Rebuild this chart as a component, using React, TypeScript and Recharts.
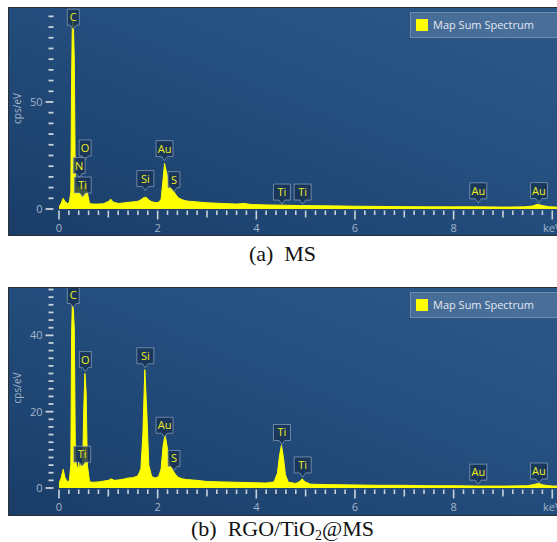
import React from 'react';
import { AreaChart, Area, XAxis, YAxis, ReferenceDot } from 'recharts';

// (a) MS spectrum (keV / cps/eV)
const msEnergy = [0, 0.04, 0.085, 0.12, 0.17, 0.21, 0.24, 0.255, 0.27, 0.29, 0.31, 0.33, 0.35, 0.39, 0.42, 0.45, 0.48, 0.5, 0.525, 0.55, 0.58, 0.62, 0.7, 0.8, 0.9, 1.0, 1.05, 1.1, 1.2, 1.3, 1.4, 1.5, 1.6, 1.65, 1.7, 1.74, 1.78, 1.82, 1.88, 1.95, 2.02, 2.07, 2.11, 2.14, 2.18, 2.22, 2.27, 2.31, 2.36, 2.42, 2.5, 2.6, 2.8, 3.0, 3.3, 3.6, 3.75, 3.9, 4.2, 4.5, 4.9, 5.4, 6.0, 6.5, 7.0, 7.5, 8.0, 8.5, 9.0, 9.45, 9.6, 9.7, 9.8, 9.95, 10.2, 10.4];
const msCounts = [1.0, 2.5, 5.0, 3.5, 2.6, 3.0, 8, 60, 86, 88, 70, 15, 10, 11, 9, 11, 9, 10, 12, 10, 7, 2.5, 2.3, 2.3, 2.5, 3.5, 4.6, 3.2, 2.6, 2.8, 3.1, 3.3, 3.6, 4.2, 5.0, 5.5, 5.2, 4.2, 3.4, 3.0, 3.1, 4.5, 14, 21.3, 17, 12, 9.5, 8.8, 7.0, 5.2, 4.3, 3.7, 3.3, 2.9, 2.6, 2.3, 2.6, 2.1, 1.9, 1.8, 1.6, 1.5, 1.3, 1.2, 1.1, 1.0, 1.0, 1.0, 0.9, 1.0, 1.4, 2.2, 1.6, 1.0, 0.8, 0.8];

// (b) RGO/TiO2@MS spectrum
const rgoEnergy = [0, 0.04, 0.085, 0.12, 0.17, 0.21, 0.24, 0.255, 0.27, 0.29, 0.31, 0.33, 0.35, 0.38, 0.4, 0.42, 0.45, 0.48, 0.5, 0.525, 0.55, 0.575, 0.62, 0.7, 0.8, 0.9, 1.0, 1.06, 1.12, 1.2, 1.3, 1.4, 1.5, 1.6, 1.66, 1.7, 1.74, 1.78, 1.82, 1.88, 1.95, 2.02, 2.07, 2.11, 2.15, 2.19, 2.23, 2.28, 2.31, 2.36, 2.42, 2.5, 2.6, 2.8, 3.0, 3.3, 3.6, 3.9, 4.2, 4.36, 4.43, 4.47, 4.51, 4.55, 4.59, 4.65, 4.8, 4.87, 4.93, 4.99, 5.1, 5.4, 6.0, 6.5, 7.0, 7.5, 8.0, 8.5, 9.0, 9.5, 9.62, 9.72, 9.82, 10.0, 10.4];
const rgoCounts = [1.2, 2.5, 4.9, 2.8, 1.6, 2.0, 6, 40, 48, 47, 42, 12, 6, 5, 6.7, 4.5, 6.5, 5.5, 20, 30, 25, 6, 1.6, 1.5, 1.6, 1.8, 2.0, 2.4, 2.0, 2.1, 2.3, 2.6, 2.7, 3.2, 5, 14, 31, 20, 6, 3, 2.6, 3.0, 5, 11, 14, 11, 7, 5.2, 4.6, 3.6, 2.8, 2.4, 2.2, 2.0, 1.7, 1.6, 1.5, 1.4, 1.3, 1.6, 4, 8.5, 11.2, 8, 3.5, 1.5, 1.2, 1.6, 2.4, 1.6, 1.0, 0.9, 0.8, 0.7, 0.7, 0.6, 0.6, 0.5, 0.5, 0.6, 0.9, 1.2, 0.8, 0.5, 0.5];

// peak tags: element, energy of the pointer, value at the pointer tip
const msTagNames = ['C', 'O', 'N', 'Ti', 'Si', 'Au', 'S', 'Ti', 'Ti', 'Au', 'Au'];
const msTagEnergy = [0.29, 0.53, 0.41, 0.48, 1.75, 2.14, 2.33, 4.52, 4.94, 8.5, 9.73];
const msTagTips = [84, 22.9, 14.7, 5.6, 8.6, 22.6, 8.1, 2.3, 2.3, 2.9, 3.0];

const rgoTagNames = ['C', 'O', 'Ti', 'Si', 'Au', 'S', 'Ti', 'Ti', 'Au', 'Au'];
const rgoTagEnergy = [0.29, 0.535, 0.47, 1.75, 2.14, 2.33, 4.52, 4.94, 8.5, 9.73];
const rgoTagTips = [47.3, 30.5, 5.7, 31.5, 13.3, 4.6, 11.4, 2.9, 1.0, 1.3];

// axes
const xTicks = Array.from({ length: 53 }, (_, i) => Math.round(i * 2) / 10);
const xLabelValues = [0, 2, 4, 6, 8, 10];
const xLabelTexts = ['0', '2', '4', '6', '8', 'keV'];
const msYTicks = Array.from({ length: 19 }, (_, i) => i * 5);
const msYLabels = [0, 50];
const rgoYTicks = Array.from({ length: 27 }, (_, i) => i * 2);
const rgoYLabels = [0, 20, 40];

const AXIS_TEXT = '#a3b5c9';
const TICK_LINE = '#c9d2dc';
const FONT = '"Open Sans", "Noto Sans", sans-serif';
const SPECTRUM = '#ffff00';

const EnergyTick = (props: any) => {
  const { x, y, payload } = props;
  const v = payload.value;
  const nearInt = Math.abs(v - Math.round(v)) < 1e-6;
  const even = nearInt && Math.round(v) % 2 === 0;
  const len = even ? 9 : nearInt ? 7 : 4.5;
  const idx = even ? xLabelValues.indexOf(Math.round(v)) : -1;
  return (
    <g>
      <line x1={x} x2={x} y1={y + 1.5} y2={y + 1.5 + len} stroke={TICK_LINE} strokeWidth={1.6} />
      {idx >= 0 && (
        <text x={x} y={y + 23} textAnchor="middle" fill={AXIS_TEXT} fontSize={11} fontFamily={FONT}>
          {xLabelTexts[idx]}
        </text>
      )}
    </g>
  );
};

const makeCountTick = (labels: number[]) => (props: any) => {
  const { x, y, payload } = props;
  const labelled = labels.includes(payload.value);
  return (
    <g>
      <line x1={labelled ? x - 13.5 : x - 10.5} x2={x - 5.5} y1={y} y2={y} stroke={TICK_LINE} strokeWidth={1.8} />
      {labelled && (
        <text x={x - 16.5} y={y + 4} textAnchor="end" fill={AXIS_TEXT} fontSize={11} fontFamily={FONT}>
          {payload.value}
        </text>
      )}
    </g>
  );
};

const AxisTitle = (props: any) => {
  const vb = props.viewBox || { x: 0, y: 0, height: 200 };
  const cx = vb.x + 8;
  const cy = vb.y + vb.height / 2;
  return (
    <text transform={`translate(${cx}, ${cy}) rotate(-90)`} textAnchor="middle" dominantBaseline="central" fill={AXIS_TEXT} fontSize={10} fontFamily={FONT}>
      cps/eV
    </text>
  );
};

const renderTag = (name: string) => (p: any) => {
  const { cx, cy } = p;
  const w = name.length > 1 ? 17 : 12;
  const h = 16;
  const tip = 4;
  const l = cx - w / 2;
  const r = cx + w / 2;
  const bot = cy - tip;
  const top = bot - h;
  return (
    <g>
      <path
        d={`M${l},${top} H${r} V${bot} H${cx + 3} L${cx},${cy} L${cx - 3},${bot} H${l} Z`}
        fill="rgba(24,50,84,0.82)"
        stroke="rgba(160,182,206,0.6)"
        strokeWidth={1}
      />
      <text x={cx} y={top + h / 2 + 4} textAnchor="middle" fill="#eeee22" fontSize={11} fontFamily={FONT}>
        {name}
      </text>
    </g>
  );
};

interface PanelProps {
  energy: number[];
  counts: number[];
  yMax: number;
  yTicks: number[];
  yLabels: number[];
  tagNames: string[];
  tagEnergy: number[];
  tagTips: number[];
  top: number;
  xAxisHeight: number;
}

const SpectrumPanel: React.FC<PanelProps> = ({ energy, counts, yMax, yTicks, yLabels, tagNames, tagEnergy, tagTips, top, xAxisHeight }) => {
  const data = energy.map((e, i) => ({ energy: e, counts: counts[i] }));
  return (
    <div
      style={{
        position: 'absolute',
        left: 8,
        top,
        width: 563,
        height: 227,
        border: '1px solid #2b2f36',
        background: 'linear-gradient(to bottom left, #2c5887 0%, #244e7e 45%, #1a3d68 100%)',
        overflow: 'hidden',
      }}
    >
      <AreaChart width={563} height={227} data={data} margin={{ top: 0, right: 0, bottom: 0, left: 0 }}>
        <XAxis
          dataKey="energy"
          type="number"
          domain={[0, 10.4]}
          ticks={xTicks}
          interval={0}
          tick={<EnergyTick />}
          tickLine={false}
          axisLine={false}
          tickSize={0}
          tickMargin={0}
          height={xAxisHeight}
          allowDataOverflow
        />
        <YAxis
          type="number"
          domain={[0, yMax]}
          ticks={yTicks}
          interval={0}
          tick={makeCountTick(yLabels)}
          tickLine={false}
          axisLine={false}
          tickSize={0}
          tickMargin={0}
          width={50}
          allowDataOverflow
          label={<AxisTitle />}
        />
        <Area
          dataKey="counts"
          type="linear"
          stroke={SPECTRUM}
          strokeWidth={1}
          fill={SPECTRUM}
          fillOpacity={1}
          dot={false}
          activeDot={false}
          isAnimationActive={false}
        />
        {tagNames.map((name, i) => (
          <ReferenceDot
            key={`${name}-${i}`}
            x={tagEnergy[i]}
            y={tagTips[i]}
            r={0}
            ifOverflow="visible"
            shape={renderTag(name)}
          />
        ))}
      </AreaChart>
      <div
        style={{
          position: 'absolute',
          left: 401,
          top: 4,
          width: 170,
          height: 24,
          background: 'rgba(150,175,205,0.28)',
          border: '1px solid rgba(180,200,222,0.35)',
          fontFamily: FONT,
          fontSize: 11,
          color: '#e2e8ef',
          lineHeight: '24px',
        }}
      >
        <span style={{ position: 'absolute', left: 5, top: 6, width: 12, height: 12, background: SPECTRUM }} />
        <span style={{ position: 'absolute', left: 22, top: 0 }}>Map Sum Spectrum</span>
      </div>
    </div>
  );
};

const captionStyle: React.CSSProperties = {
  position: 'absolute',
  left: 8,
  width: 549,
  textAlign: 'center',
  fontFamily: '"Liberation Serif", "Times New Roman", serif',
  fontSize: 22,
  lineHeight: '24px',
  color: '#111',
  whiteSpace: 'pre',
};

export default function App() {
  React.useEffect(() => {
    document.body.style.margin = '0';
    document.documentElement.style.overflow = 'hidden';
  }, []);
  return (
    <div style={{ position: 'relative', width: 557, height: 542, overflow: 'hidden', background: '#fff' }}>
      <SpectrumPanel
        energy={msEnergy}
        counts={msCounts}
        yMax={93.9}
        yTicks={msYTicks}
        yLabels={msYLabels}
        tagNames={msTagNames}
        tagEnergy={msTagEnergy}
        tagTips={msTagTips}
        top={7}
        xAxisHeight={26}
      />
      <div style={{ ...captionStyle, top: 242 }}>(a)  MS</div>
      <SpectrumPanel
        energy={rgoEnergy}
        counts={rgoCounts}
        yMax={52.4}
        yTicks={rgoYTicks}
        yLabels={rgoYLabels}
        tagNames={rgoTagNames}
        tagEnergy={rgoTagEnergy}
        tagTips={rgoTagTips}
        top={287}
        xAxisHeight={27}
      />
      <div style={{ ...captionStyle, top: 517 }}>
        (b)  RGO/TiO<sub style={{ fontSize: 14, verticalAlign: -4 }}>2</sub>@MS
      </div>
    </div>
  );
}
